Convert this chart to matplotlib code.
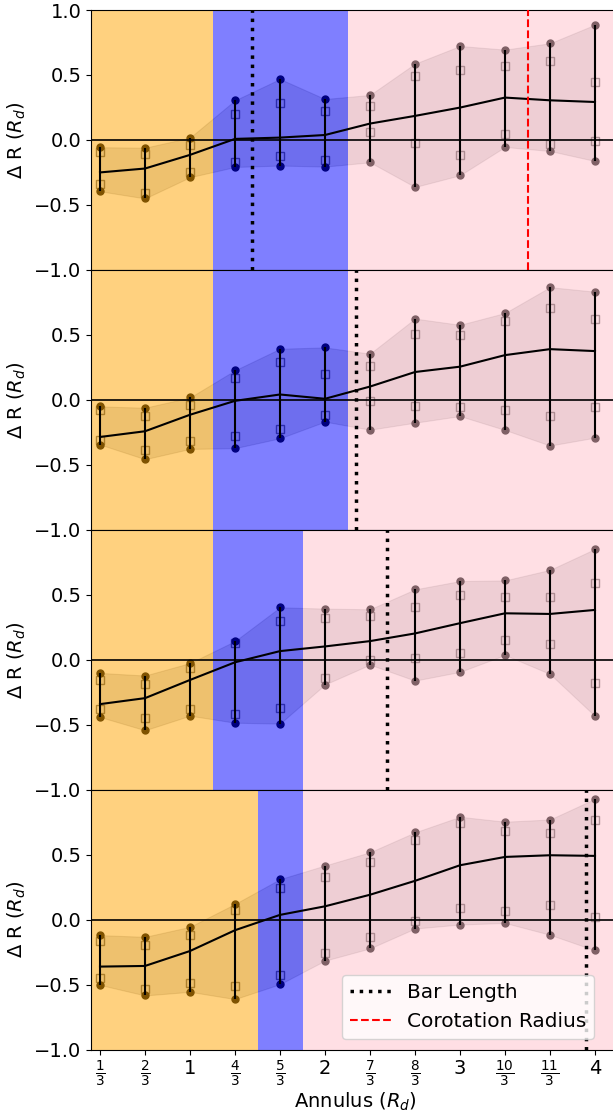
import numpy as np
import matplotlib
matplotlib.use('Agg')
from matplotlib import pyplot as plt
from matplotlib.lines import Line2D

# annulus centres (units of R_d)
annulus = np.arange(1, 13) / 3.0
tick_labels = [r'$\frac{1}{3}$', r'$\frac{2}{3}$', '1', r'$\frac{4}{3}$', r'$\frac{5}{3}$', '2',
               r'$\frac{7}{3}$', r'$\frac{8}{3}$', '3', r'$\frac{10}{3}$', r'$\frac{11}{3}$', '4']

# one row per panel: mean, outer range (circles), inner range (squares)
mean = [
    [-0.25, -0.22, -0.115, 0.008, 0.018, 0.038, 0.126, 0.185, 0.249, 0.326, 0.305, 0.292],
    [-0.286, -0.242, -0.115, -0.008, 0.041, 0.008, 0.102, 0.214, 0.255, 0.344, 0.39, 0.375],
    [-0.342, -0.296, -0.156, -0.02, 0.066, 0.102, 0.143, 0.202, 0.281, 0.357, 0.352, 0.383],
    [-0.362, -0.357, -0.242, -0.082, 0.036, 0.102, 0.191, 0.298, 0.418, 0.482, 0.495, 0.49],
]
upper = [
    [-0.056, -0.06, 0.018, 0.305, 0.469, 0.315, 0.346, 0.587, 0.723, 0.695, 0.744, 0.887],
    [-0.051, -0.061, 0.018, 0.227, 0.393, 0.403, 0.355, 0.625, 0.577, 0.668, 0.867, 0.832],
    [-0.102, -0.122, -0.026, 0.143, 0.403, 0.393, 0.388, 0.541, 0.605, 0.61, 0.691, 0.852],
    [-0.12, -0.133, -0.056, 0.12, 0.311, 0.416, 0.518, 0.671, 0.791, 0.753, 0.77, 0.929],
]
lower = [
    [-0.395, -0.45, -0.287, -0.208, -0.197, -0.205, -0.172, -0.362, -0.272, -0.054, -0.085, -0.162],
    [-0.344, -0.457, -0.378, -0.372, -0.296, -0.168, -0.23, -0.176, -0.125, -0.232, -0.352, -0.291],
    [-0.441, -0.543, -0.431, -0.485, -0.492, -0.191, -0.038, -0.161, -0.094, 0.036, -0.11, -0.434],
    [-0.503, -0.584, -0.556, -0.612, -0.497, -0.316, -0.222, -0.069, -0.038, -0.026, -0.117, -0.237],
]
upper_q = [
    [-0.092, -0.11, -0.038, 0.197, 0.285, 0.223, 0.264, 0.492, 0.541, 0.569, 0.605, 0.449],
    [-0.077, -0.122, -0.038, 0.168, 0.288, 0.199, 0.263, 0.51, 0.495, 0.61, 0.707, 0.622],
    [-0.153, -0.189, -0.066, 0.128, 0.298, 0.319, 0.339, 0.406, 0.495, 0.485, 0.485, 0.589],
    [-0.166, -0.194, -0.115, 0.071, 0.24, 0.329, 0.444, 0.612, 0.74, 0.681, 0.668, 0.77],
]
lower_q = [
    [-0.338, -0.41, -0.25, -0.172, -0.123, -0.156, 0.062, -0.026, -0.115, 0.049, -0.033, -0.008],
    [-0.306, -0.39, -0.316, -0.276, -0.224, -0.117, -0.01, -0.046, -0.059, -0.082, -0.125, -0.059],
    [-0.383, -0.446, -0.378, -0.416, -0.372, -0.14, -0.003, 0.013, 0.051, 0.153, 0.117, -0.181],
    [-0.449, -0.533, -0.492, -0.515, -0.426, -0.26, -0.135, -0.008, 0.087, 0.064, 0.112, 0.02],
]

# region edges (R_d) for each panel
bulge_edge = [7/6, 7/6, 7/6, 3/2]
bar_edge = [13/6, 13/6, 11/6, 11/6]
bar_length = [1.46, 2.23, 2.46, 3.93]
corotation = [3.5, None, None, None]

fig = plt.figure(figsize=(6.13, 11.16), dpi=100)
left = 91 / 613
right = 620 / 613
top = 1 - 10 / 1116
bottom = 1 - 1049.5 / 1116
h = (top - bottom) / 4

axes = []
for i in range(4):
    ax = fig.add_axes([left, top - (i + 1) * h, right - left, h])
    axes.append(ax)

for i, ax in enumerate(axes):
    lo = np.array(lower[i])
    hi = np.array(upper[i])
    m = np.array(mean[i])

    # band and markers sit under the shaded regions, so they take their tint
    ax.fill_between(annulus, lo, hi, color='k', alpha=0.13, lw=0.8, zorder=0.3)
    ax.plot(annulus, hi, 'o', color='k', ms=5, ls='none', zorder=0.5)
    ax.plot(annulus, lo, 'o', color='k', ms=5, ls='none', zorder=0.5)
    ax.plot(annulus, upper_q[i], 's', mfc='none', mec='k', alpha=0.6, ms=5.5, ls='none', zorder=0.5)
    ax.plot(annulus, lower_q[i], 's', mfc='none', mec='k', alpha=0.6, ms=5.5, ls='none', zorder=0.5)

    ax.axvspan(0, bulge_edge[i], color='orange', alpha=0.5, lw=0, zorder=1)
    ax.axvspan(bulge_edge[i], bar_edge[i], color='blue', alpha=0.5, lw=0, zorder=1)
    ax.axvspan(bar_edge[i], 5, color='pink', alpha=0.5, lw=0, zorder=1)

    ax.axhline(0, color='k', lw=1.2, zorder=2)
    ax.vlines(annulus, lo, hi, color='k', lw=1.5, zorder=2)
    ax.plot(annulus, m, color='k', lw=1.5, zorder=2)

    ax.axvline(bar_length[i], color='k', ls=':', lw=2.5, zorder=3)
    if corotation[i] is not None:
        ax.axvline(corotation[i], color='red', ls='--', lw=1.5, zorder=3)

    ax.set_xlim(1/3 - 9/135, 4 + 25/135)
    ax.set_ylim(-1, 1)
    if i == 0:
        ax.set_yticks([-1, -0.5, 0, 0.5, 1])
    else:
        ax.set_yticks([-1, -0.5, 0, 0.5])
    ax.tick_params(axis='y', labelsize=14)
    ax.set_ylabel(r'$\Delta$ R ($R_d$)', fontsize=14)
    ax.set_xticks(annulus)
    if i < 3:
        ax.tick_params(axis='x', labelbottom=False, length=0)
    else:
        ax.set_xticklabels(tick_labels, fontsize=14)
        ax.set_xlabel(r'Annulus ($R_d$)', fontsize=14, labelpad=1)

handles = [Line2D([], [], color='k', ls=':', lw=2.5),
           Line2D([], [], color='red', ls='--', lw=1.5)]
axes[3].legend(handles, ['Bar Length', 'Corotation Radius'], loc='lower right',
               fontsize=14.5, bbox_to_anchor=(0.97, 0.0))

fig.savefig('out.png', dpi=100)
